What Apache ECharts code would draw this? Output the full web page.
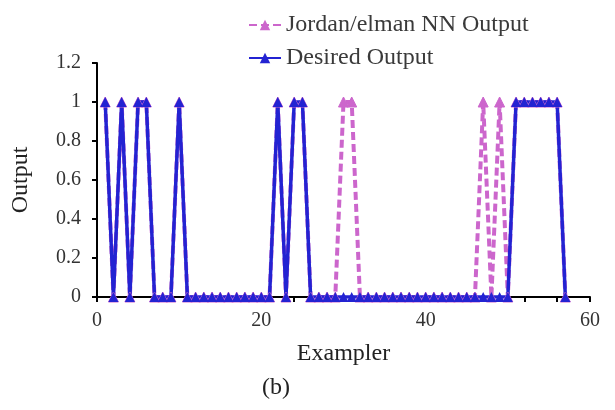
<!DOCTYPE html>
<html>
<head>
<meta charset="utf-8">
<script src="https://cdn.jsdelivr.net/npm/echarts@6/dist/echarts.min.js"></script>
<style>html,body{margin:0;padding:0;background:#fff;}#c{width:615px;height:410px;}</style>
</head>
<body>
<div id="c"></div>
<script>
var examplers = [1,2,3,4,5,6,7,8,9,10,11,12,13,14,15,16,17,18,19,20,21,22,23,24,25,26,27,28,29,30,31,32,33,34,35,36,37,38,39,40,41,42,43,44,45,46,47,48,49,50,51,52,53,54,55,56,57];
var jordanOutput = [1,0,1,0,1,1,0,0,0,1, 0,0,0,0,0,0,0,0,0,0, 0,1,0,1,1,0,0,0,0,1, 1,0,0,0,0,0,0,0,0,0, 0,0,0,0,0,0,1,0,1,0, 1,1,1,1,1,1,0];
var desiredOutput = [1,0,1,0,1,1,0,0,0,1, 0,0,0,0,0,0,0,0,0,0, 0,1,0,1,1,0,0,0,0,0, 0,0,0,0,0,0,0,0,0,0, 0,0,0,0,0,0,0,0,0,0, 1,1,1,1,1,1,0];
var seriesNames = ['Jordan/elman NN Output', 'Desired Output'];

function pairs(xs, ys){ return xs.map(function(x,i){ return [x, ys[i]]; }); }

var font = 'Liberation Serif';
var chart = echarts.init(document.getElementById('c'));
chart.setOption({
  backgroundColor: '#fff',
  animation: false,
  grid: {left: 97, right: 25, top: 63, bottom: 113},
  legend: {
    orient: 'vertical', left: 243, top: 8, itemGap: 9,
    itemWidth: 32, itemHeight: 13,
    textStyle: {fontFamily: font, fontSize: 24, color: '#3a3a3a'},
    data: seriesNames
  },
  xAxis: {
    type: 'value', min: 0, max: 60, interval: 4,
    name: 'Exampler', nameLocation: 'middle', nameGap: 45,
    nameTextStyle: {fontFamily: font, fontSize: 24, color: '#222'},
    axisLine: {lineStyle: {color: '#000', width: 2}},
    axisTick: {show: true, length: 5, lineStyle: {color: '#000', width: 2}},
    axisLabel: {fontFamily: font, fontSize: 20, color: '#333', margin: 14,
      formatter: function(v){ return v % 20 === 0 ? String(v) : ''; }},
    splitLine: {show: false}
  },
  yAxis: {
    type: 'value', min: 0, max: 1.2, interval: 0.2,
    name: 'Output', nameLocation: 'middle', nameGap: 64,
    nameTextStyle: {fontFamily: font, fontSize: 24, color: '#222'},
    axisLine: {show: true, lineStyle: {color: '#000', width: 2}},
    axisTick: {show: true, length: 5, lineStyle: {color: '#000', width: 2}},
    axisLabel: {fontFamily: font, fontSize: 20, color: '#333', margin: 16},
    splitLine: {show: false}
  },
  series: [
    {
      name: seriesNames[0], type: 'line', data: pairs(examplers, jordanOutput),
      symbol: 'triangle', symbolSize: 10,
      itemStyle: {color: '#CC66CC', borderColor: '#CC66CC'},
      lineStyle: {color: '#CC66CC', width: 4, type: [8, 4]}
    },
    {
      name: seriesNames[1], type: 'line', data: pairs(examplers, desiredOutput),
      symbol: 'triangle', symbolSize: 10,
      itemStyle: {color: '#2323D2'},
      lineStyle: {color: '#2323D2', width: 3.5}
    }
  ],
  graphic: [{
    type: 'text', left: 262, top: 376,
    style: {text: '(b)', fontFamily: font, fontSize: 24, fill: '#222'}
  }]
});
</script>
</body>
</html>
